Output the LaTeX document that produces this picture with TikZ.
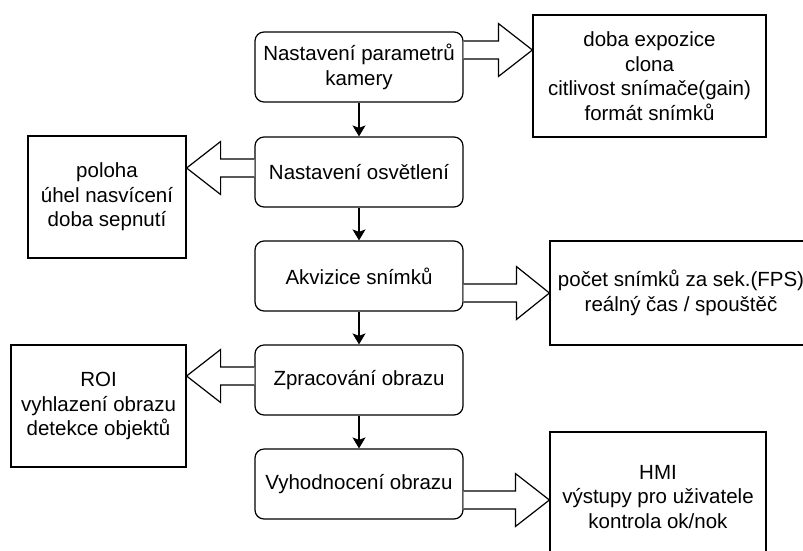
\documentclass[tikz,border=0pt]{standalone}
\usepackage{fontspec}
\setmainfont{Liberation Sans}
\usetikzlibrary{arrows.meta,calc}
\newcommand{\fsz}{\fontsize{20.5pt}{24.5pt}\selectfont}
\newcommand{\blockarr}[3]{%
  \draw[barrow] let \p1=(#1), \p2=(#2) in
    (\x1,{\y1+9pt}) -- ({\x2-(#3pt)},{\y1+9pt}) -- ({\x2-(#3pt)},{\y1+26.5pt})
    -- (\x2,\y1) -- ({\x2-(#3pt)},{\y1-26.5pt}) -- ({\x2-(#3pt)},{\y1-9pt})
    -- (\x1,{\y1-9pt});}
\begin{document}
\begin{tikzpicture}[x=1pt,y=-1pt,
  proc/.style={draw=black, line width=1.2pt, rounded corners=9pt,
    minimum width=208pt, minimum height=70pt, align=center, inner sep=0pt,
    font=\fsz, text=black},
  info/.style={draw=black, line width=1.2pt, align=center, inner sep=0pt,
    font=\fsz, text=black},
  arr/.style={-{Stealth[length=11pt,width=13pt,inset=2.5pt]}, line width=1.2pt},
  barrow/.style={draw=black, line width=1.2pt, fill=white, line join=miter}]
\useasboundingbox (0,0) rectangle (803,550);
% process column
\node[proc] (A) at (359,67) {Nastavení parametrů\\kamery};
\node[proc] (B) at (359,172) {Nastavení osvětlení};
\node[proc] (C) at (359,276) {Akvizice snímků};
\node[proc] (D) at (359,380) {Zpracování obrazu};
\node[proc] (E) at (359,484) {Vyhodnocení obrazu};
% info boxes
\node[info, minimum width=233pt, minimum height=122pt] (R1) at (649.5,76)
  {doba expozice\\clona\\citlivost snímače(gain)\\formát snímků};
\node[info, minimum width=158pt, minimum height=122pt] (L1) at (107,197)
  {poloha\\úhel nasvícení\\doba sepnutí};
\node[info, minimum width=262pt, minimum height=104pt] (R2) at (681,293)
  {počet snímků za sek.(FPS)\\reálný čas / spouštěč};
\node[info, minimum width=175pt, minimum height=122pt] (L2) at (98.5,406)
  {ROI\\vyhlazení obrazu\\detekce objektů};
\node[info, minimum width=216pt, minimum height=130pt] (R3) at (658,497)
  {HMI\\výstupy pro uživatele\\kontrola ok/nok};
% flow arrows
\draw[arr] (A) -- (B);
\draw[arr] (B) -- (C);
\draw[arr] (C) -- (D);
\draw[arr] (D) -- (E);
% block arrows
\blockarr{A.east |- 0,50}{R1.west |- 0,50}{34}
\blockarr{B.west |- 0,168}{L1.east |- 0,168}{-34}
\blockarr{C.east |- 0,293}{R2.west |- 0,293}{33}
\blockarr{D.west |- 0,376}{L2.east |- 0,376}{-34}
\blockarr{E.east |- 0,500}{R3.west |- 0,500}{34}
\end{tikzpicture}
\end{document}
